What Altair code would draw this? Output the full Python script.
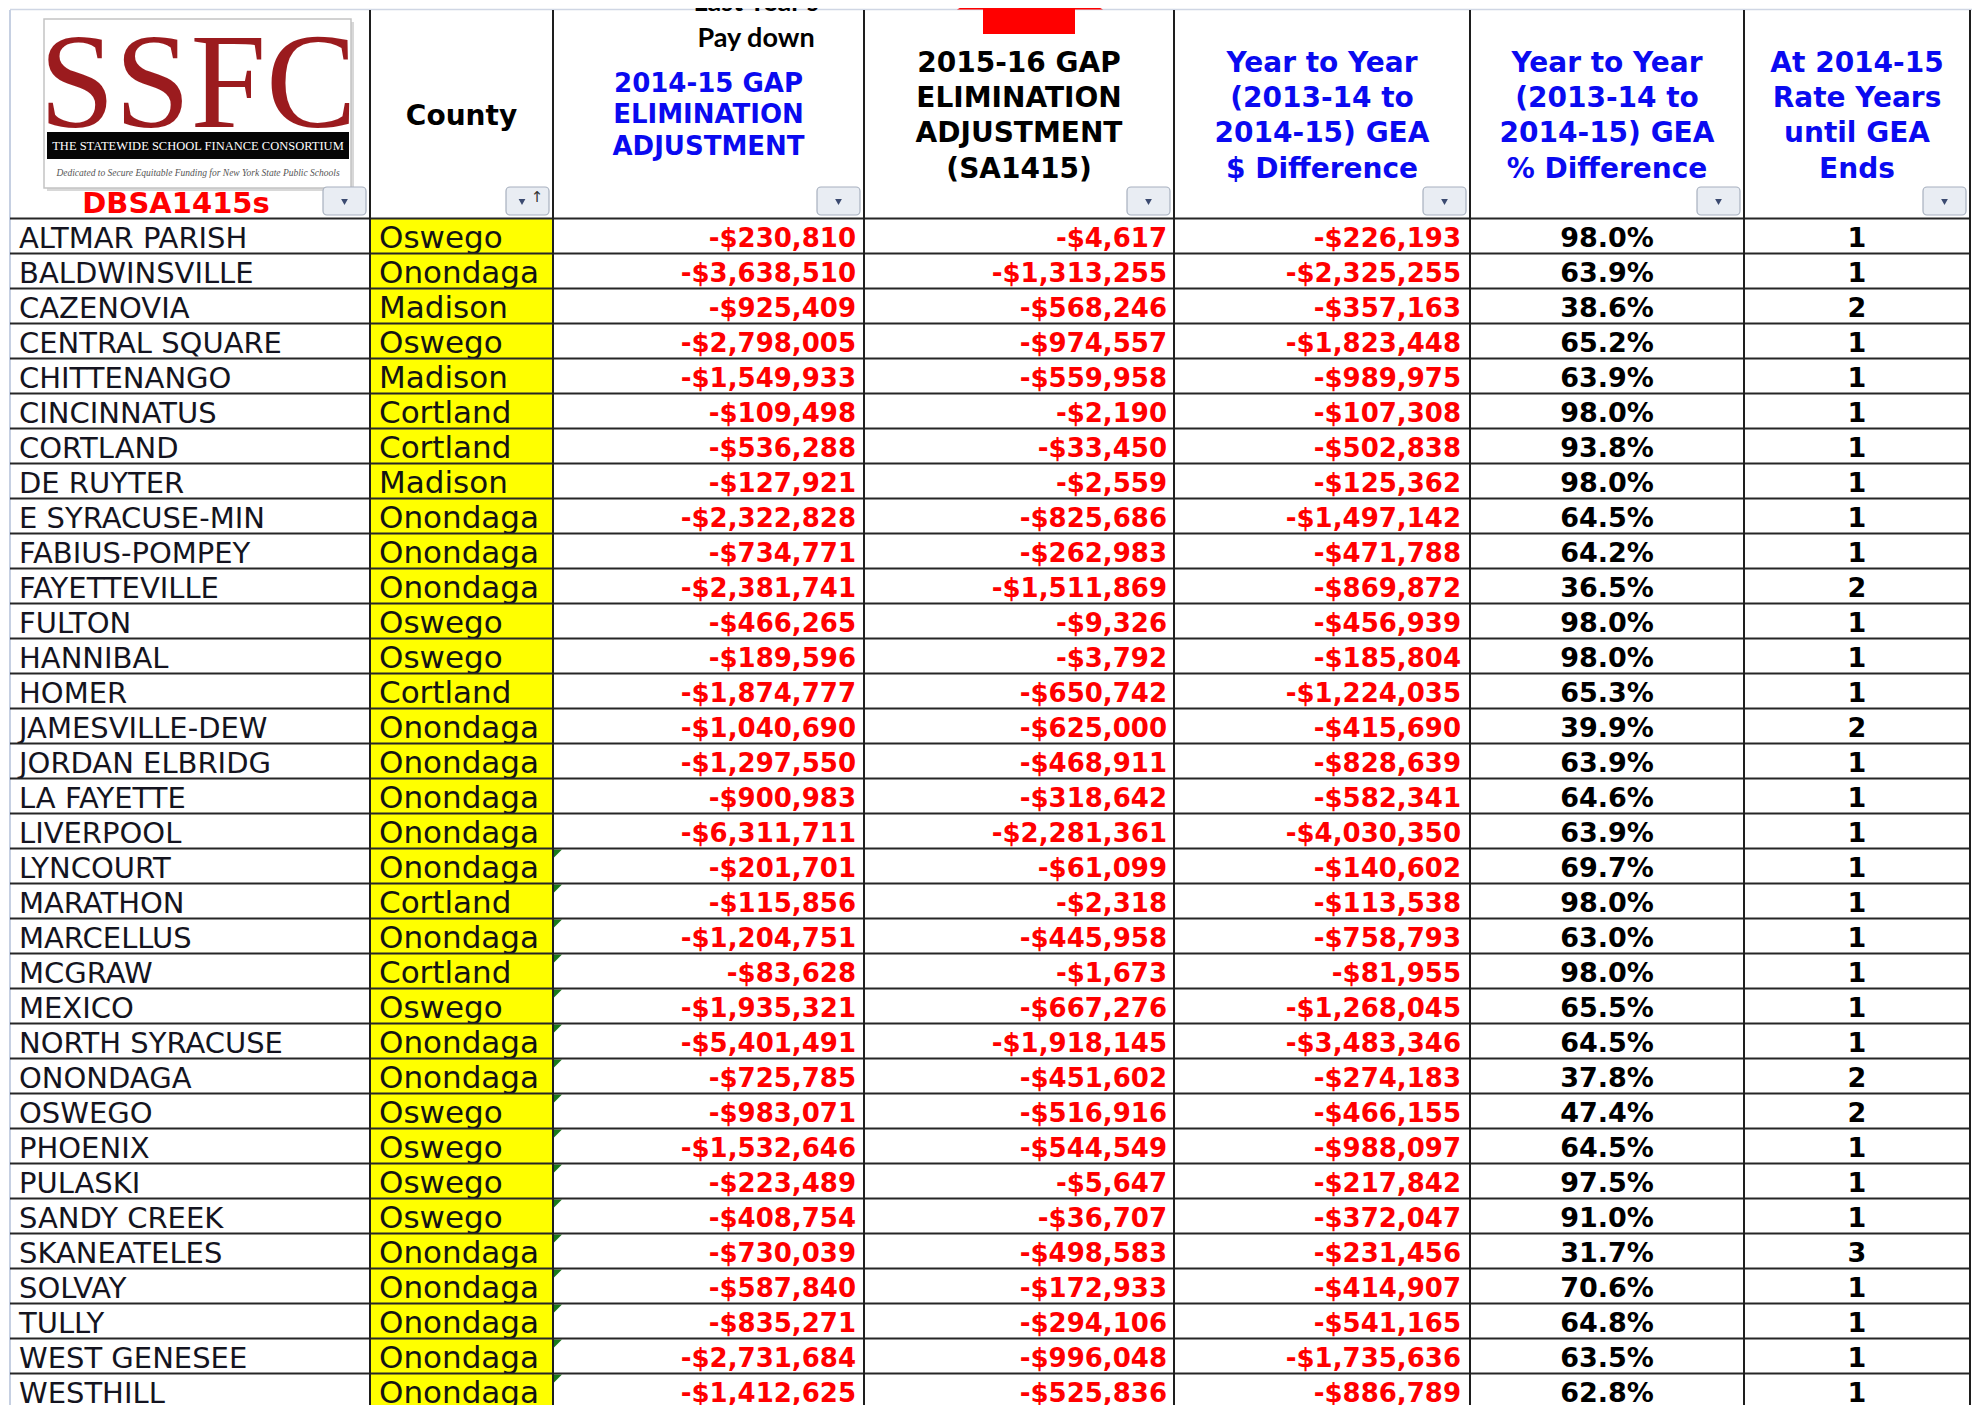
import altair as alt
import pandas as pd

# ---------------- data ----------------
districts = ["ALTMAR PARISH", "BALDWINSVILLE", "CAZENOVIA", "CENTRAL SQUARE", "CHITTENANGO",
             "CINCINNATUS", "CORTLAND", "DE RUYTER", "E SYRACUSE-MIN", "FABIUS-POMPEY",
             "FAYETTEVILLE", "FULTON", "HANNIBAL", "HOMER", "JAMESVILLE-DEW", "JORDAN ELBRIDG",
             "LA FAYETTE", "LIVERPOOL", "LYNCOURT", "MARATHON", "MARCELLUS", "MCGRAW", "MEXICO",
             "NORTH SYRACUSE", "ONONDAGA", "OSWEGO", "PHOENIX", "PULASKI", "SANDY CREEK",
             "SKANEATELES", "SOLVAY", "TULLY", "WEST GENESEE", "WESTHILL"]
counties = ["Oswego", "Onondaga", "Madison", "Oswego", "Madison", "Cortland", "Cortland", "Madison",
            "Onondaga", "Onondaga", "Onondaga", "Oswego", "Oswego", "Cortland", "Onondaga", "Onondaga",
            "Onondaga", "Onondaga", "Onondaga", "Cortland", "Onondaga", "Cortland", "Oswego", "Onondaga",
            "Onondaga", "Oswego", "Oswego", "Oswego", "Oswego", "Onondaga", "Onondaga", "Onondaga",
            "Onondaga", "Onondaga"]
gea_2014_15 = [-230810, -3638510, -925409, -2798005, -1549933, -109498, -536288, -127921, -2322828,
               -734771, -2381741, -466265, -189596, -1874777, -1040690, -1297550, -900983, -6311711,
               -201701, -115856, -1204751, -83628, -1935321, -5401491, -725785, -983071, -1532646,
               -223489, -408754, -730039, -587840, -835271, -2731684, -1412625]
gea_2015_16 = [-4617, -1313255, -568246, -974557, -559958, -2190, -33450, -2559, -825686, -262983,
               -1511869, -9326, -3792, -650742, -625000, -468911, -318642, -2281361, -61099, -2318,
               -445958, -1673, -667276, -1918145, -451602, -516916, -544549, -5647, -36707, -498583,
               -172933, -294106, -996048, -525836]
dollar_diff = [-226193, -2325255, -357163, -1823448, -989975, -107308, -502838, -125362, -1497142,
               -471788, -869872, -456939, -185804, -1224035, -415690, -828639, -582341, -4030350,
               -140602, -113538, -758793, -81955, -1268045, -3483346, -274183, -466155, -988097,
               -217842, -372047, -231456, -414907, -541165, -1735636, -886789]
pct_diff = [98.0, 63.9, 38.6, 65.2, 63.9, 98.0, 93.8, 98.0, 64.5, 64.2, 36.5, 98.0, 98.0, 65.3, 39.9,
            63.9, 64.6, 63.9, 69.7, 98.0, 63.0, 98.0, 65.5, 64.5, 37.8, 47.4, 64.5, 97.5, 91.0, 31.7,
            70.6, 64.8, 63.5, 62.8]
years_left = [1, 1, 2, 1, 1, 1, 1, 1, 1, 1, 2, 1, 1, 1, 2, 1, 1, 1, 1, 1, 1, 1, 1, 1, 2, 2, 1, 1, 1, 3,
              1, 1, 1, 1]
flagged_from = "LYNCOURT"  # rows from here on carry the small green cell marker

header_county = ["County"]
header_col3 = ["2014-15 GAP", "ELIMINATION", "ADJUSTMENT"]
header_col4 = ["2015-16 GAP", "ELIMINATION", "ADJUSTMENT", "(SA1415)"]
header_col5 = ["Year to Year", "(2013-14 to", "2014-15) GEA", "$ Difference"]
header_col6 = ["Year to Year", "(2013-14 to", "2014-15) GEA", "% Difference"]
header_col7 = ["At 2014-15", "Rate Years", "until GEA", "Ends"]
note_lines = ["Last Year's", "Pay down"]
logo_title = "SSFC"
logo_band = "THE STATEWIDE SCHOOL FINANCE CONSORTIUM"
logo_motto = "Dedicated to Secure Equitable Funding for New York State Public Schools"
sheet_name = "DBSA1415s"

# ---------------- layout ----------------
COL_EDGES = [10, 370, 553, 864, 1174, 1470, 1744, 1970]
HEADER_TOP = 10
HEADER_BOTTOM = 218.5
ROW_H = 35
X_DOMAIN = [8, 1972]
Y_DOMAIN = [8, 1405]
BOTTOM = 1410
TDY = 2.5  # small downward nudge for middle-baseline text

xs = alt.Scale(domain=X_DOMAIN, nice=False, zero=False)
ys = alt.Scale(domain=Y_DOMAIN, nice=False, zero=False, reverse=True)


def X(f):
    return alt.X(f"{f}:Q", scale=xs, axis=None)


def Y(f):
    return alt.Y(f"{f}:Q", scale=ys, axis=None)


def text_layer(df, **kw):
    return alt.Chart(df).mark_text(**kw).encode(x=X("x"), y=Y("y"), text=alt.Text("t:N"))


def rect_layer(df, **kw):
    return alt.Chart(df).mark_rect(**kw).encode(x=X("x"), x2=alt.X2("x2"), y=Y("y"), y2=alt.Y2("y2"))


def money(v):
    return f"-${abs(v):,}"


n = len(districts)
row_top = [HEADER_BOTTOM + ROW_H * i for i in range(n)]
row_mid = [t + ROW_H / 2 + TDY for t in row_top]

layers = []

# yellow county cells
layers.append(rect_layer(pd.DataFrame({
    "x": [COL_EDGES[1]] * n, "x2": [COL_EDGES[2]] * n,
    "y": row_top, "y2": [t + ROW_H for t in row_top]}), color="#FFFF00"))

# logo
layers.append(rect_layer(pd.DataFrame({"x": [47], "x2": [354], "y": [22], "y2": [191]}), color="#d8d8d8"))
layers.append(rect_layer(pd.DataFrame({"x": [44], "x2": [351], "y": [19], "y2": [188]}),
                         fill="white", stroke="#c4c4c4", strokeWidth=1.5))
layers.append(rect_layer(pd.DataFrame({"x": [47], "x2": [349], "y": [132], "y2": [159]}), color="#050505"))
layers.append(text_layer(pd.DataFrame({"x": [198], "y": [127], "t": [logo_title]}),
                         font="Liberation Serif", fontSize=136, color="#9B1B1E", baseline="alphabetic",
                         align="center"))
layers.append(text_layer(pd.DataFrame({"x": [198], "y": [146], "t": [logo_band]}),
                         font="Liberation Serif", fontSize=12.5, color="white", baseline="middle",
                         align="center"))
layers.append(text_layer(pd.DataFrame({"x": [198], "y": [173], "t": [logo_motto]}),
                         font="Liberation Serif", fontStyle="italic", fontSize=9.5, color="#555555",
                         baseline="middle", align="center"))
layers.append(text_layer(pd.DataFrame({"x": [176], "y": [201 + TDY], "t": [sheet_name]}),
                         font="DejaVu Sans", fontWeight="bold", fontSize=29, color="#FF0000",
                         baseline="middle", align="center"))

# filter buttons
btn = pd.DataFrame({"x": [e - 47 for e in COL_EDGES[1:]], "x2": [e - 4 for e in COL_EDGES[1:]],
                    "y": [187] * 7, "y2": [215] * 7})
layers.append(rect_layer(btn, fill="#e9edf3", stroke="#a7b0bf", strokeWidth=1.2, cornerRadius=4))
tri_x = [e - 25.5 for e in COL_EDGES[1:]]
tri_x[1] = COL_EDGES[2] - 31
layers.append(alt.Chart(pd.DataFrame({"x": tri_x, "y": [202] * 7})).mark_point(
    shape="triangle-down", filled=True, size=45, color="#3b4a70", opacity=1).encode(x=X("x"), y=Y("y")))
layers.append(text_layer(pd.DataFrame({"x": [COL_EDGES[2] - 16], "y": [197], "t": ["\u2191"]}),
                         font="DejaVu Sans", fontSize=15, color="#333333", baseline="middle", align="center"))


# header texts
def add_header(lines, xc, ys_, color, size):
    return text_layer(pd.DataFrame({"x": [xc] * len(lines), "y": [v + TDY for v in ys_[:len(lines)]],
                                    "t": lines}),
                      font="DejaVu Sans", fontWeight="bold", fontSize=size, color=color,
                      baseline="middle", align="center")


cen = [(COL_EDGES[i] + COL_EDGES[i + 1]) / 2 for i in range(7)]
four_rows = [61, 96, 131.5, 167]
three_rows = [81, 112.5, 144]
BLUE = "#0a0af0"
layers.append(add_header(header_county, cen[1], [114], "#000000", 28))
layers.append(add_header(header_col3, cen[2], three_rows, BLUE, 26))
layers.append(add_header(header_col4, cen[3], four_rows, "#000000", 28))
layers.append(add_header(header_col5, cen[4], four_rows, BLUE, 28))
layers.append(add_header(header_col6, cen[5], four_rows, BLUE, 28))
layers.append(add_header(header_col7, cen[6], four_rows, BLUE, 28))

# body texts
layers.append(text_layer(pd.DataFrame({"x": [19] * n, "y": row_mid, "t": districts}),
                         font="DejaVu Sans", fontSize=29, color="#141420", baseline="middle", align="left"))
layers.append(text_layer(pd.DataFrame({"x": [379] * n, "y": row_mid, "t": counties}),
                         font="DejaVu Sans", fontSize=31, color="#141414", baseline="middle", align="left"))
for vals, xr in [(gea_2014_15, 856), (gea_2015_16, 1167), (dollar_diff, 1461)]:
    layers.append(text_layer(pd.DataFrame({"x": [xr] * n, "y": row_mid, "t": [money(v) for v in vals]}),
                             font="DejaVu Sans", fontWeight="bold", fontSize=26, color="#FF0000",
                             baseline="middle", align="right"))
layers.append(text_layer(pd.DataFrame({"x": [cen[5]] * n, "y": row_mid, "t": [f"{p:.1f}%" for p in pct_diff]}),
                         font="DejaVu Sans", fontWeight="bold", fontSize=27, color="#000000",
                         baseline="middle", align="center"))
layers.append(text_layer(pd.DataFrame({"x": [cen[6]] * n, "y": row_mid, "t": [str(v) for v in years_left]}),
                         font="DejaVu Sans", fontWeight="bold", fontSize=27, color="#000000",
                         baseline="middle", align="center"))

# green markers
start = districts.index(flagged_from)
layers.append(alt.Chart(pd.DataFrame({"x": [COL_EDGES[2] + 5] * (n - start),
                                      "y": [t + 5 for t in row_top[start:]]})).mark_point(
    shape="M-1,-1 L1,-1 L-1,1 Z", filled=True, size=64, color="#1b7a1b", opacity=1).encode(x=X("x"), y=Y("y")))

# grid lines
layers.append(alt.Chart(pd.DataFrame({"x": [COL_EDGES[0]], "x2": [1980], "y": [9.5]})).mark_rule(
    color="#cfd6e4", strokeWidth=1.5).encode(x=X("x"), x2=alt.X2("x2"), y=Y("y")))
layers.append(alt.Chart(pd.DataFrame({"x": [COL_EDGES[0]], "y": [HEADER_TOP], "y2": [BOTTOM]})).mark_rule(
    color="#c6d0e2", strokeWidth=2).encode(x=X("x"), y=Y("y"), y2=alt.Y2("y2")))
hl = [HEADER_BOTTOM + ROW_H * k for k in range(n)]
layers.append(alt.Chart(pd.DataFrame({"x": [COL_EDGES[0]] * n, "x2": [COL_EDGES[-1]] * n, "y": hl})).mark_rule(
    color="#262626", strokeWidth=2).encode(x=X("x"), x2=alt.X2("x2"), y=Y("y")))
vl = COL_EDGES[1:]
layers.append(alt.Chart(pd.DataFrame({"x": vl, "y": [HEADER_TOP] * len(vl), "y2": [BOTTOM] * len(vl)})).mark_rule(
    color="#1e1e1e", strokeWidth=2).encode(x=X("x"), y=Y("y"), y2=alt.Y2("y2")))

# note above the table and red arrow
layers.append(text_layer(pd.DataFrame({"x": [756, 756], "y": [3, 36 + TDY], "t": note_lines}),
                         font="Lato", fontWeight="bold", fontSize=27, color="#000000",
                         baseline="middle", align="center"))
layers.append(rect_layer(pd.DataFrame({"x": [983], "x2": [1075], "y": [0], "y2": [34]}), color="#FF0000"))
layers.append(alt.Chart(pd.DataFrame({"x": [1030], "y": [9.5]})).mark_point(
    shape="M-1,0 L1,0 L0,-0.55 Z", filled=True, size=146 * 146, color="#FF0000", opacity=1).encode(
    x=X("x"), y=Y("y")))

chart = alt.layer(*layers).properties(
    width=X_DOMAIN[1] - X_DOMAIN[0], height=Y_DOMAIN[1] - Y_DOMAIN[0],
    padding=0, autosize=alt.AutoSizeParams(type="none"), background="white"
).configure_view(stroke=None)

chart.save("out.html", embed_options={"renderer": "svg", "actions": False})
